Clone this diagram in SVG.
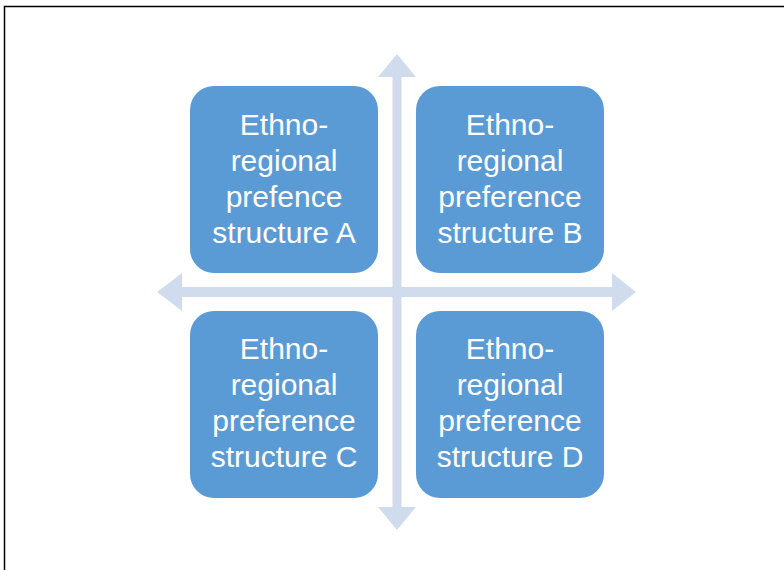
<svg xmlns="http://www.w3.org/2000/svg" width="784" height="570" viewBox="0 0 784 570">
<style>
.box{fill:#5B9BD5;}
.lbl{font-family:"Liberation Sans",Arial,sans-serif;font-size:30px;fill:#FFFFFF;text-anchor:middle;}
.arr{fill:#D0DCEE;}
</style>
<rect width="784" height="570" fill="#FFFFFF"/>
<path d="M4.5 570 V6.5 H784" fill="none" stroke="#000000" stroke-width="1.5"/>
<g id="connectors">
<path class="arr" d="M397 54 L416 77 L401.5 77 L401.5 287 L612 287 L612 273 L636 292 L612 311 L612 297 L401.5 297 L401.5 507 L416 507 L397 530 L378 507 L392.5 507 L392.5 297 L182 297 L182 311 L157 292 L182 273 L182 287 L392.5 287 L392.5 77 L378 77 Z"/>
</g>
<g id="nodeA">
<rect class="box" x="190" y="86" width="188" height="187" rx="24"/>
<text class="lbl" x="284" y="135">Ethno-</text>
<text class="lbl" x="284" y="171">regional</text>
<text class="lbl" x="284" y="207">prefence</text>
<text class="lbl" x="284" y="243">structure A</text>
</g>
<g id="nodeB">
<rect class="box" x="416" y="86" width="188" height="187" rx="24"/>
<text class="lbl" x="510" y="135">Ethno-</text>
<text class="lbl" x="510" y="171">regional</text>
<text class="lbl" x="510" y="207">preference</text>
<text class="lbl" x="510" y="243">structure B</text>
</g>
<g id="nodeC">
<rect class="box" x="190" y="311" width="188" height="187" rx="24"/>
<text class="lbl" x="284" y="359">Ethno-</text>
<text class="lbl" x="284" y="395">regional</text>
<text class="lbl" x="284" y="431">preference</text>
<text class="lbl" x="284" y="467">structure C</text>
</g>
<g id="nodeD">
<rect class="box" x="416" y="311" width="188" height="187" rx="24"/>
<text class="lbl" x="510" y="359">Ethno-</text>
<text class="lbl" x="510" y="395">regional</text>
<text class="lbl" x="510" y="431">preference</text>
<text class="lbl" x="510" y="467">structure D</text>
</g>
</svg>
